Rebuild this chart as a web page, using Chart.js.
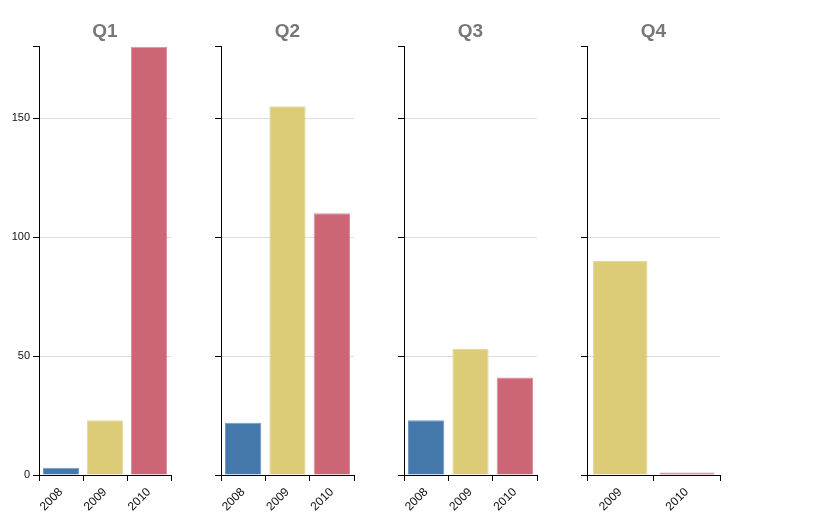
<!DOCTYPE html>
<html>
<head>
<meta charset="utf-8">
<script src="https://cdn.jsdelivr.net/npm/chart.js@4"></script>
<style>
html,body{margin:0;padding:0;background:#fff;}
body{width:813px;height:530px;position:relative;overflow:hidden;}
.p{position:absolute;top:0;height:530px;}
</style>
</head>
<body>
<div class="p" id="w1"><canvas id="c1"></canvas></div>
<div class="p" id="w2"><canvas id="c2"></canvas></div>
<div class="p" id="w3"><canvas id="c3"></canvas></div>
<div class="p" id="w4"><canvas id="c4"></canvas></div>
<script>
const quarters = ['Q1', 'Q2', 'Q3', 'Q4'];
const q1Years = ['2008', '2009', '2010'];
const q1Values = [3, 23, 180];
const q2Years = ['2008', '2009', '2010'];
const q2Values = [22, 155, 110];
const q3Years = ['2008', '2009', '2010'];
const q3Values = [23, 53, 41];
const q4Years = ['2009', '2010'];
const q4Values = [90, 1];
const yTicks = [0, 50, 100, 150];
const yMax = 180;

const yearColors = {'2008': '#4477aa', '2009': '#ddcc77', '2010': '#cc6677'};
const yearBorders = {'2008': 'rgba(100,140,190,0.9)', '2009': 'rgba(228,214,150,0.9)', '2010': 'rgba(214,130,145,0.9)'};

const panels = [
  {id: 'c1', wrap: 'w1', left: 39, right: 171, years: q1Years, values: q1Values, labels: true},
  {id: 'c2', wrap: 'w2', left: 221, right: 354, years: q2Years, values: q2Values, labels: false},
  {id: 'c3', wrap: 'w3', left: 404, right: 537, years: q3Years, values: q3Values, labels: false},
  {id: 'c4', wrap: 'w4', left: 587, right: 720, years: q4Years, values: q4Values, labels: false}
];
const AXW = 39;
const BOTTOM = 475;

panels.forEach((p, i) => {
  const w = document.getElementById(p.wrap);
  w.style.left = (p.left - AXW) + 'px';
  w.style.width = (p.right - p.left + 2 * AXW) + 'px';
  new Chart(document.getElementById(p.id), {
    type: 'bar',
    data: {
      labels: p.years,
      datasets: [{
        data: p.values,
        backgroundColor: p.years.map(y => yearColors[y]),
        borderColor: p.years.map(y => yearBorders[y]),
        borderWidth: 1,
        barPercentage: 0.82,
        categoryPercentage: 1.0
      }]
    },
    options: {
      responsive: true,
      maintainAspectRatio: false,
      animation: false,
      events: [],
      layout: {padding: 0},
      plugins: {
        legend: {display: false},
        tooltip: {enabled: false},
        title: {
          display: true,
          text: quarters[i],
          color: '#777777',
          font: {family: 'Liberation Sans, Arial, sans-serif', size: 19, weight: 'bold', lineHeight: 1.2},
          padding: {top: 20, bottom: 4}
        }
      },
      scales: {
        x: {
          type: 'category',
          offset: true,
          grid: {offset: true, drawOnChartArea: false, drawTicks: true, tickLength: 6, color: '#000', tickColor: '#000', lineWidth: 1},
          border: {display: true, color: '#000', width: 1},
          ticks: {
            minRotation: 45, maxRotation: 45, padding: 4,
            color: '#111',
            font: {family: 'Liberation Sans, Arial, sans-serif', size: 12}
          },
          afterFit: s => { s.height = 530 - BOTTOM; }
        },
        y: {
          position: 'left',
          min: 0,
          max: yMax,
          afterBuildTicks: s => { s.ticks = yTicks.concat([yMax]).map(v => ({value: v})); },
          grid: {
            drawOnChartArea: true, drawTicks: true, tickLength: 6,
            color: c => (c.tick && (c.tick.value === 0 || c.tick.value === yMax)) ? 'rgba(0,0,0,0)' : '#dddddd',
            tickColor: '#000', lineWidth: 1
          },
          border: {display: true, color: '#000', width: 1},
          ticks: {
            display: p.labels,
            padding: 3,
            color: '#111',
            font: {family: 'Liberation Sans, Arial, sans-serif', size: 11},
            callback: v => (yTicks.includes(v) ? String(v) : '')
          },
          afterFit: s => { s.width = AXW; }
        },
        yr: {
          position: 'right',
          display: true,
          min: 0,
          max: yMax,
          grid: {display: false, drawTicks: false},
          border: {display: false},
          ticks: {display: false},
          afterFit: s => { s.width = AXW; }
        }
      }
    }
  });
});
</script>
</body>
</html>
